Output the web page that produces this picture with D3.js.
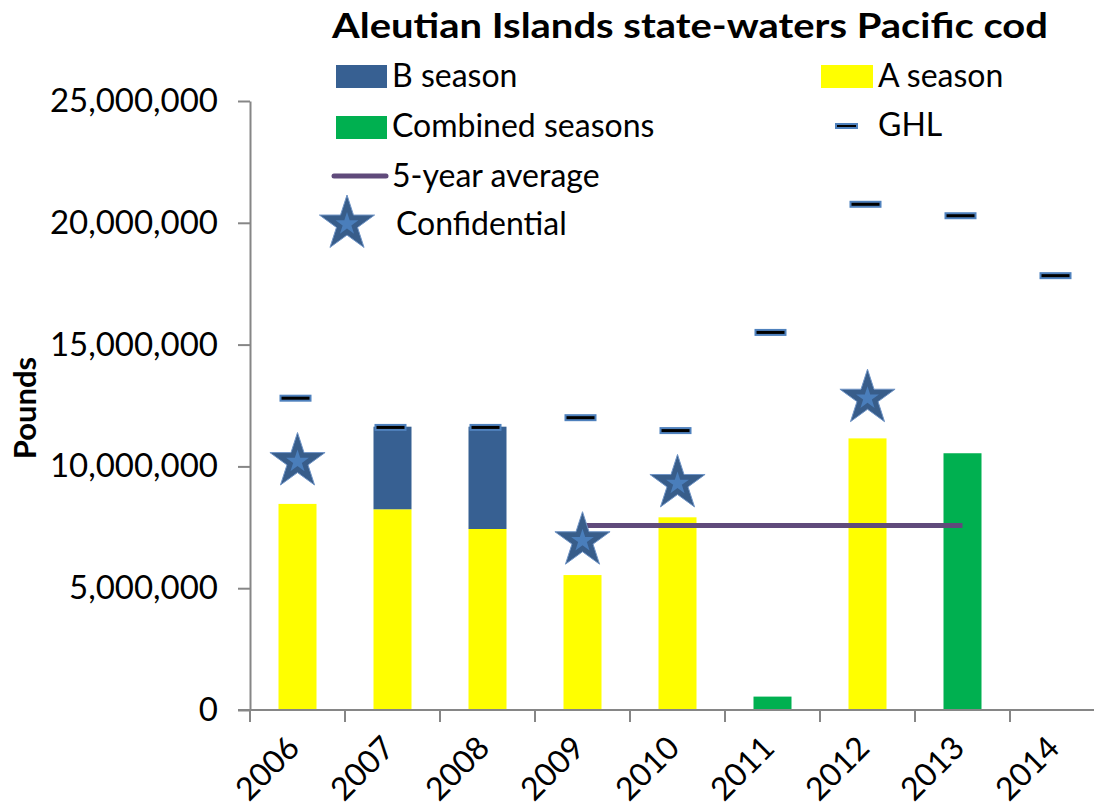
<!DOCTYPE html>
<html>
<head>
<meta charset="utf-8">
<script src="https://cdnjs.cloudflare.com/ajax/libs/d3/7.8.5/d3.min.js"></script>
<style>
	body { margin: 0; background: #fff; }
	text { font-family: Lato, "Open Sans", sans-serif; fill: #000; }
</style>
</head>
<body>
<svg width="1094" height="809"></svg>
<script>
// Data
var years = ["2006", "2007", "2008", "2009", "2010", "2011", "2012", "2013", "2014"];
var aSeason = [8460000, 8240000, 7430000, 5540000, 7910000, 0, 11150000, 0, 0];
var bSeason = [0, 3390000, 4200000, 0, 0, 0, 0, 0, 0];
var combinedSeasons = [0, 0, 0, 0, 0, 550000, 0, 10540000, 0];
var ghl = [12800000, 11600000, 11600000, 12000000, 11470000, 15500000, 20760000, 20290000, 17830000];
var confidentialYears = ["2006", "2009", "2010", "2012"];
var confidentialValues = [10200000, 6950000, 9300000, 12800000];
var avgYears = ["2009", "2013"];
var avgValue = 7570000;
var yTicks = [0, 5000000, 10000000, 15000000, 20000000, 25000000];

// The svg
var svg = d3.select("svg"),
	width = +svg.attr("width"),
	height = +svg.attr("height");

// plot edges (don't use "top", it's window.top)
var plotLeft = 250, plotRight = 1105, plotTop = 101, plotBottom = 710;

var x = d3.scaleBand()
	.domain(years)
	.range([plotLeft, plotRight])
	.paddingInner(0.6)
	.paddingOuter(0.3);

var y = d3.scaleLinear()
	.domain([0, 25000000])
	.range([plotBottom, plotTop]);

var axisGray = "#868686";

// rows for the stack
var rows = years.map(function (d, i) {
	return { year: d, A: aSeason[i], B: bSeason[i], C: combinedSeasons[i] };
});
var stack = d3.stack().keys(["A", "B", "C"])(rows);
var colors = { A: "#ffff00", B: "#376092", C: "#00b050" };

// Bars
svg.append("g")
	.selectAll("g")
	.data(stack)
	.enter()
	.append("g")
	.attr("fill", function (d) { return colors[d.key]; })
	.selectAll("rect")
	.data(function (d) { return d.filter(function (p) { return p[1] - p[0] > 0; }); })
	.enter()
	.append("rect")
	.attr("x", function (d) { return x(d.data.year); })
	.attr("width", x.bandwidth())
	.attr("y", function (d) { return y(d[1]); })
	.attr("height", function (d) { return y(d[0]) - y(d[1]); });

// Y axis
var yAxis = svg.append("g")
	.attr("transform", "translate(" + plotLeft + ",0)")
	.call(d3.axisLeft(y)
		.tickValues(yTicks)
		.tickFormat(d3.format(","))
		.tickSize(12)
		.tickSizeOuter(0)
		.tickPadding(20));
yAxis.select(".domain").attr("stroke", axisGray).attr("stroke-width", 2);
yAxis.selectAll(".tick line").attr("stroke", axisGray).attr("stroke-width", 2);
yAxis.selectAll(".tick text")
	.style("font-family", "Lato, sans-serif")
	.style("font-size", "33px")
	.attr("fill", "#000");

// X axis, ticks between categories
var step = x.step();
var xAxis = svg.append("g")
	.attr("transform", "translate(0," + plotBottom + ")")
	.call(d3.axisBottom(x)
		.tickSize(12)
		.tickSizeOuter(0)
		.tickFormat(""));
xAxis.select(".domain").attr("d", "M" + (plotLeft - 12) + ",0H" + width)
	.attr("stroke", axisGray).attr("stroke-width", 2);
xAxis.selectAll(".tick line")
	.attr("x1", -step / 2).attr("x2", -step / 2)
	.attr("stroke", axisGray).attr("stroke-width", 2);

// year labels, rotated
svg.append("g")
	.selectAll("text")
	.data(years)
	.enter()
	.append("text")
	.attr("transform", function (d) {
		return "translate(" + (x(d) + x.bandwidth() / 2 - 4) + "," + (plotBottom + 32) + ") rotate(-45)";
	})
	.attr("text-anchor", "end")
	.attr("dy", "0.35em")
	.style("font-size", "32px")
	.text(function (d) { return d; });

// 5-year average
svg.append("line")
	.attr("x1", x(avgYears[0]) + x.bandwidth() / 2)
	.attr("x2", x(avgYears[1]) + x.bandwidth() / 2)
	.attr("y1", y(avgValue))
	.attr("y2", y(avgValue))
	.attr("stroke", "#604a7b")
	.attr("stroke-width", 5);

// GHL markers
svg.append("g")
	.selectAll("rect")
	.data(years)
	.enter()
	.append("rect")
	.attr("x", function (d) { return x(d) + x.bandwidth() / 2 - 17; })
	.attr("y", function (d, i) { return y(ghl[i]) - 2.5; })
	.attr("width", 30)
	.attr("height", 5)
	.attr("fill", "#000")
	.attr("stroke", "#4f81bd")
	.attr("stroke-width", 2);

// Confidential stars
var bigStar = d3.symbol().type(d3.symbolStar).size(29 * 29 / 0.8908);
var smallStar = d3.symbol().type(d3.symbolStar).size(12 * 12 / 0.8908);

function drawStar(g) {
	g.append("path").attr("d", bigStar).attr("fill", "#385d8a")
		.attr("stroke", "#6f94c6").attr("stroke-width", 1);
	g.append("path").attr("d", smallStar).attr("fill", "#4a7ebb");
}

svg.append("g")
	.selectAll("g")
	.data(confidentialYears)
	.enter()
	.append("g")
	.attr("transform", function (d, i) {
		return "translate(" + (x(d) + x.bandwidth() / 2) + "," + y(confidentialValues[i]) + ")";
	})
	.each(function () { drawStar(d3.select(this)); });

// Title
svg.append("text")
	.attr("x", 690)
	.attr("y", 38)
	.attr("text-anchor", "middle")
	.attr("textLength", 716)
	.attr("lengthAdjust", "spacingAndGlyphs")
	.style("font-size", "34px")
	.style("font-weight", "bold")
	.text("Aleutian Islands state-waters Pacific cod");

// Y title
svg.append("text")
	.attr("transform", "rotate(-90)")
	.attr("x", -408)
	.attr("y", 36)
	.attr("text-anchor", "middle")
	.style("font-size", "31px")
	.style("font-weight", "bold")
	.text("Pounds");

// Legend
var legend = svg.append("g").style("font-size", "32px");

legend.append("rect").attr("x", 336).attr("y", 65).attr("width", 51).attr("height", 23).attr("fill", colors.B);
legend.append("text").attr("x", 392).attr("y", 87).text("B season");

legend.append("rect").attr("x", 336).attr("y", 116).attr("width", 51).attr("height", 23).attr("fill", colors.C);
legend.append("text").attr("x", 392).attr("y", 137).text("Combined seasons");

legend.append("line").attr("x1", 334).attr("x2", 386).attr("y1", 176).attr("y2", 176)
	.attr("stroke", "#604a7b").attr("stroke-width", 5).attr("stroke-linecap", "round");
legend.append("text").attr("x", 392).attr("y", 187).text("5-year average");

drawStar(legend.append("g").attr("transform", "translate(347,224)"));
legend.append("text").attr("x", 396).attr("y", 235).text("Confidential");

legend.append("rect").attr("x", 821).attr("y", 65).attr("width", 52).attr("height", 23).attr("fill", colors.A);
legend.append("text").attr("x", 878).attr("y", 87).text("A season");

legend.append("rect").attr("x", 836).attr("y", 124).attr("width", 21).attr("height", 4)
	.attr("fill", "#000").attr("stroke", "#4f81bd").attr("stroke-width", 2);
legend.append("text").attr("x", 878).attr("y", 136).text("GHL");
</script>
</body>
</html>
